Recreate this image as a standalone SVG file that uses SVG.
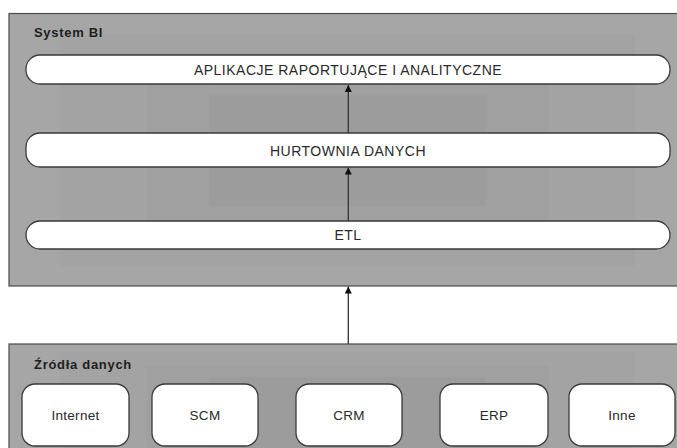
<svg xmlns="http://www.w3.org/2000/svg" width="677" height="448" viewBox="0 0 677 448">
  <style>
    .container { stroke: #4a4a4a; stroke-width: 1.2; }
    .band1 { fill: #a3a3a3; }
    .band2 { fill: #a0a0a0; }
    .band3 { fill: #9c9c9c; }
    .node { fill: #ffffff; stroke: #3a3a3a; stroke-width: 1.3; }
    .title { font-family: "Liberation Sans", Arial, sans-serif; font-size: 13px; font-weight: bold; letter-spacing: 0.7px; fill: #1e1e1e; }
    .label { font-family: "Liberation Sans", Arial, sans-serif; font-size: 14px; letter-spacing: 0.5px; fill: #2a2a2a; text-anchor: middle; }
    .src { font-size: 13.5px; letter-spacing: 0.3px; }
    .conn { stroke: #333333; stroke-width: 1.3; fill: none; }
  </style>
  <defs>
    <marker id="arrow" viewBox="0 0 10 10" refX="10" refY="5" markerWidth="7" markerHeight="7" markerUnits="userSpaceOnUse" orient="auto">
      <path d="M0,0 L10,5 L0,10 z" fill="#111111"/>
    </marker>
  </defs>

  <rect width="677" height="448" fill="#ffffff"/>

  <!-- System BI container -->
  <g id="system-bi">
    <rect class="container" x="9" y="13.5" width="680" height="272.5" fill="#a6a6a6"/>
    <rect class="band1" x="60" y="35" width="575" height="231"/>
    <rect class="band2" x="146" y="62" width="403" height="160"/>
    <rect class="band3" x="209" y="95" width="277" height="111"/>
    <text class="title" x="34" y="37">System BI</text>
  </g>

  <!-- Data sources container -->
  <g id="zrodla-danych">
    <rect class="container" x="9" y="344" width="680" height="120" fill="#a6a6a6"/>
    <rect class="band1" x="60" y="352" width="575" height="110"/>
    <rect class="band2" x="146" y="366" width="403" height="96"/>
    <rect class="band3" x="209" y="377" width="277" height="85"/>
    <text class="title" x="34" y="369">Źródła danych</text>
  </g>

  <!-- Layers of the BI system -->
  <g id="aplikacje">
    <rect class="node" x="26" y="55" width="644" height="29" rx="14" ry="14"/>
    <text class="label" x="348" y="74.5">APLIKACJE RAPORTUJĄCE I ANALITYCZNE</text>
  </g>
  <g id="hurtownia">
    <rect class="node" x="26" y="133" width="644" height="34" rx="14" ry="14"/>
    <text class="label" x="348" y="155.5">HURTOWNIA DANYCH</text>
  </g>
  <g id="etl">
    <rect class="node" x="26" y="221" width="644" height="28" rx="14" ry="14"/>
    <text class="label" x="348" y="240">ETL</text>
  </g>

  <!-- Source systems -->
  <g id="internet">
    <rect class="node" x="22" y="384" width="107" height="62" rx="13" ry="13"/>
    <text class="label src" x="75.5" y="419.5">Internet</text>
  </g>
  <g id="scm">
    <rect class="node" x="152" y="384" width="106" height="62" rx="13" ry="13"/>
    <text class="label src" x="205" y="419.5">SCM</text>
  </g>
  <g id="crm">
    <rect class="node" x="296" y="384" width="106" height="62" rx="13" ry="13"/>
    <text class="label src" x="349" y="419.5">CRM</text>
  </g>
  <g id="erp">
    <rect class="node" x="440" y="384" width="108" height="62" rx="13" ry="13"/>
    <text class="label src" x="494" y="419.5">ERP</text>
  </g>
  <g id="inne">
    <rect class="node" x="569" y="384" width="106" height="62" rx="13" ry="13"/>
    <text class="label src" x="622" y="419.5">Inne</text>
  </g>

  <!-- Connectors -->
  <g id="connectors">
    <line class="conn" x1="348.3" y1="133" x2="348.3" y2="85" marker-end="url(#arrow)"/>
    <line class="conn" x1="348.3" y1="221" x2="348.3" y2="167.5" marker-end="url(#arrow)"/>
    <line class="conn" x1="348.3" y1="344" x2="348.3" y2="286.5" marker-end="url(#arrow)"/>
  </g>
</svg>
